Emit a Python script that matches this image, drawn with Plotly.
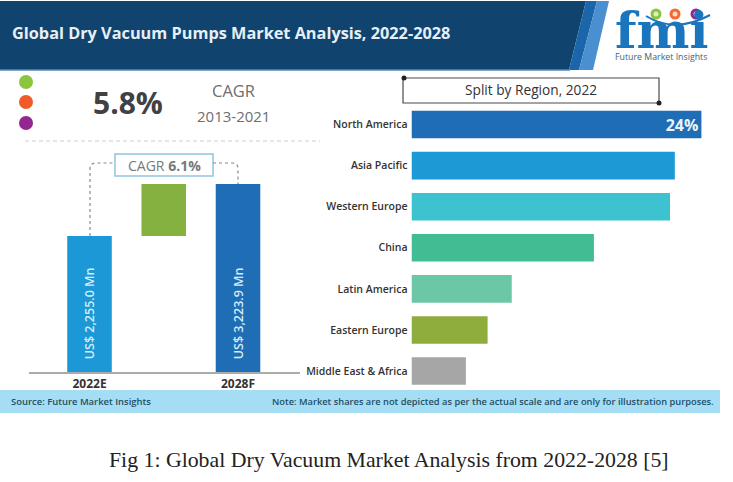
import plotly.graph_objects as go

W = 733
H = 482

# left panel
years = ["2022E", " ", "2028F"]
market_size = [2332, 892, 3223.9]
market_base = [0, 2332, 0]
market_labels = ["\u00a0\u00a0\u00a0US$ 2,255.0 Mn", "", "\u00a0\u00a0\u00a0US$ 3,223.9 Mn"]
market_colors = ["#1B98D5", "#85B140", "#1F6DB5"]

# right panel
regions = ["North America", "Asia Pacific", "Western Europe", "China",
           "Latin America", "Eastern Europe", "Middle East & Africa"]
shares = [24, 21.8, 21.4, 15.1, 8.3, 6.3, 4.5]
share_labels = ["<b>24%</b>", "", "", "", "", "", ""]
region_colors = ["#1F6DB5", "#1B9AD6", "#3CC3CF", "#40BD92",
                 "#6CC7A6", "#8FAD3C", "#A6A6A6"]


def px(x):
    return x / W


def py(y):
    return 1 - y / H


def rect(x0, y0, x1, y1, fill="rgba(0,0,0,0)", line="rgba(0,0,0,0)", width=0):
    return dict(type="rect", xref="paper", yref="paper", x0=px(x0), x1=px(x1),
                y0=py(y0), y1=py(y1), fillcolor=fill,
                line=dict(color=line, width=width), layer="below")


def poly(points, fill):
    path = "M " + " L ".join(f"{px(a)} {py(b)}" for a, b in points) + " Z"
    return dict(type="path", xref="paper", yref="paper", path=path,
                fillcolor=fill, line=dict(width=0), layer="below")


def curve(segments, color, width, dash="dot"):
    # each segment is a command letter followed by pixel x, y pairs
    parts = []
    for seg in segments:
        nums = seg[1:]
        coords = []
        for i in range(0, len(nums), 2):
            coords.append(f"{px(nums[i])} {py(nums[i + 1])}")
        parts.append(seg[0] + " " + " ".join(coords))
    return dict(type="path", xref="paper", yref="paper", path=" ".join(parts),
                line=dict(color=color, width=width, dash=dash), layer="below")


def dot(x, y, r, color):
    return dict(type="circle", xref="paper", yref="paper", x0=px(x - r), x1=px(x + r),
                y0=py(y + r), y1=py(y - r), fillcolor=color, line=dict(width=0), layer="below")


def label(x, y, text, size, color, family="Open Sans", anchor="center", weight=None):
    font = dict(size=size, color=color, family=family)
    if weight:
        font["weight"] = weight
    return dict(xref="paper", yref="paper", x=px(x), y=py(y), text=text, showarrow=False,
                xanchor=anchor, yanchor="middle", align=anchor, font=font)


fig = go.Figure()

fig.add_trace(go.Bar(
    x=years, y=market_size, base=market_base, width=0.6,
    marker=dict(color=market_colors, line=dict(width=0)),
    text=market_labels, textposition="inside", textangle=-90,
    insidetextanchor="start", constraintext="none",
    textfont=dict(size=12.5, color="#D5ECF8", family="Open Sans", weight=600),
    xaxis="x", yaxis="y", showlegend=False,
))

fig.add_trace(go.Bar(
    x=shares, y=regions, orientation="h", width=0.67,
    marker=dict(color=region_colors, line=dict(width=0)),
    text=share_labels, textposition="inside", insidetextanchor="end",
    constraintext="none",
    textfont=dict(size=16, color="#EAF3FA", family="Open Sans"),
    xaxis="x2", yaxis="y2", showlegend=False,
))

shapes = [
    # header
    poly([(0, 1), (586, 1), (569, 70), (0, 70)], "#11436F"),
    poly([(586, 1), (597, 1), (579, 70), (569, 70)], "#1B65AB"),
    poly([(597, 1), (609, 1), (593, 70), (579, 70)], "#4A90D0"),
    rect(0, 69.5, 570, 71, fill="#7FA8C8"),
    # logo
    dot(656, 14, 5.5, "#8BC53F"),
    dot(656, 14, 2.5, "#DDEEC0"),
    dot(675, 14, 5.5, "#F26A2E"),
    dot(675, 14, 2.5, "#FBD9C8"),
    dot(696, 14, 5.5, "#92278F"),
    dot(696, 14, 2.5, "#E6CBE5"),
    curve([("M", 646, 16), ("Q", 675, 34, 710, 15)], "#1B75BC", 2, "solid"),
    # left summary
    dot(26, 82, 7, "#8BC53F"),
    dot(26, 102, 7, "#F15A29"),
    dot(26, 123, 7, "#92278F"),
    curve([("M", 25, 141), ("L", 320, 141)], "#CFCFCF", 1, "4px,3px"),
    rect(115, 154, 213, 176, fill="white", line="#8FC5E0", width=1.5),
    curve([("M", 90, 236), ("L", 90, 169), ("Q", 90, 163, 96, 163), ("L", 115, 163)], "#8A8A8A", 1.2),
    curve([("M", 213, 163), ("L", 232, 163), ("Q", 238, 163, 238, 169), ("L", 238, 184)], "#8A8A8A", 1.2),
    # right title box
    rect(403, 78, 659, 103, fill="white", line="#4A4A4A", width=1.2),
    dot(404, 78, 2.5, "#222222"),
    dot(659, 103, 2.5, "#222222"),
    # source band
    rect(0, 390, 720, 413, fill="#A5DDF5"),
]

annotations = [
    label(10, 33, "<b>Global Dry Vacuum Pumps Market Analysis, 2022-2028</b>", 16.3, "#E6EFF5", anchor="left"),
    label(661, 30, "<b>fmi</b>", 50, "#1B75BC", family="DejaVu Serif"),
    label(661, 57, "Future Market Insights", 8.8, "#44617A"),
    label(128, 102, "<b>5.8%</b>", 30, "#414042"),
    label(234, 90, "CAGR", 16.5, "#6D6E71"),
    label(233, 116, "2013-2021", 15, "#6D6E71"),
    label(164, 165, "CAGR <b>6.1%</b>", 14, "#77797C"),
    label(531, 89, "Split by Region, 2022", 13.7, "#333333"),
    label(9, 401, "Source: Future Market Insights", 9.45, "#1D4F66", anchor="left", weight=600),
    label(270, 401, "Note: Market shares are not depicted as per the actual scale and are only for illustration purposes.",
          9.3, "#1D4F66", anchor="left", weight=600),
    label(389, 460, "Fig 1: Global Dry Vacuum Market Analysis from 2022-2028 [5]", 21.8, "#222222",
          family="Liberation Serif"),
]

fig.update_layout(
    width=W, height=H, margin=dict(l=0, r=0, t=0, b=0),
    paper_bgcolor="white", plot_bgcolor="rgba(0,0,0,0)",
    shapes=shapes, annotations=annotations, showlegend=False,
    xaxis=dict(domain=[px(29), px(300)], range=[-0.815, 2.835], type="category",
               categoryorder="array", categoryarray=years,
               showgrid=False, zeroline=False, ticks="", showline=True,
               linecolor="#ABABAB", linewidth=1.5, anchor="y",
               tickvals=years, ticktext=["<b>2022E</b>", "", "<b>2028F</b>"],
               tickfont=dict(size=12, color="#333333", family="Open Sans")),
    yaxis=dict(domain=[py(372), py(173.7)], range=[0, 3400], visible=False, anchor="x"),
    xaxis2=dict(domain=[px(411.5), px(720)], range=[0, 25.54], visible=False, anchor="y2"),
    yaxis2=dict(domain=[py(391.6), py(104)], range=[6.5, -0.5], type="category",
                categoryorder="array", categoryarray=regions,
                showgrid=False, zeroline=False, showline=False, ticks="", anchor="x2",
                ticklabelstandoff=3,
                tickfont=dict(size=10.5, color="#333333", family="Open Sans", weight=600)),
)

fig.write_html("out.html", config=dict(displayModeBar=False),
               post_script="document.body.style.margin='0';")
